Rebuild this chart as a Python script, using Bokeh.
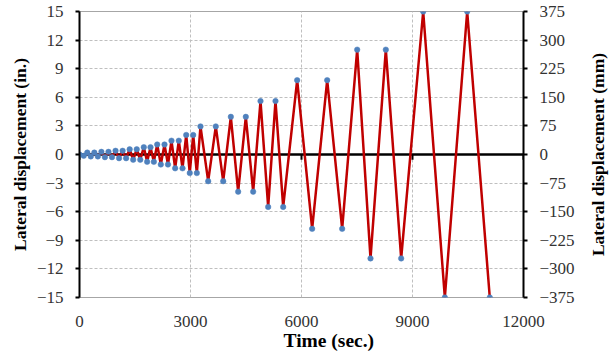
import math
from bokeh.plotting import figure
from bokeh.layouts import row
from bokeh.models import Range1d, LinearAxis, FixedTicker, Span, Title, ColumnDataSource
from bokeh.embed import file_html
from bokeh.resources import INLINE

# ---- data ----
time_s = [0, 115, 210, 305, 401, 496, 592, 687, 783, 878, 974, 1069, 1165, 1260,
          1356, 1451, 1547, 1642, 1738, 1828, 1919, 2009, 2100, 2198, 2297, 2391,
          2486, 2585, 2684, 2784, 2884, 2980, 3073, 3171, 3270, 3478, 3684, 3884,
          4090, 4288, 4495, 4694, 4892, 5099, 5297, 5505, 5883, 6288, 6694, 7099,
          7505, 7865, 8279, 8694, 9289, 9874, 10478, 11089]
disp_in = [0, -0.14, 0.2, -0.2, 0.2, -0.2, 0.28, -0.28, 0.28, -0.28, 0.39, -0.39,
           0.39, -0.39, 0.55, -0.55, 0.55, -0.55, 0.77, -0.77, 0.77, -0.77, 1.05,
           -1.05, 1.05, -1.05, 1.45, -1.45, 1.45, -1.45, 2.05, -1.95, 2.05, -1.95,
           2.95, -2.8, 2.95, -2.8, 3.95, -3.9, 3.95, -3.9, 5.6, -5.5, 5.6, -5.5,
           7.8, -7.8, 7.8, -7.8, 11.0, -10.9, 11.0, -10.9, 15.0, -15.0, 15.0, -15.0]

x_ticks = [0, 3000, 6000, 9000, 12000]
y_ticks_in = [-15, -12, -9, -6, -3, 0, 3, 6, 9, 12, 15]
y_ticks_mm = [-375, -300, -225, -150, -75, 0, 75, 150, 225, 300, 375]

x_title = "Time (sec.)"
y_title_left = "Lateral displacement (in.)"
y_title_right = "Lateral displacement (mm)"

SERIF = "Liberation Serif"
TICK_SIZE = "17px"
TICK_COLOR = "#333333"

W, H = 585, 352

p = figure(width=W, height=H, output_backend="svg", toolbar_location=None,
           x_range=Range1d(0, 12000), y_range=Range1d(-15, 15),
           min_border_left=79, min_border_right=62, min_border_top=11,
           min_border_bottom=55)
p.extra_y_ranges = {"mm": Range1d(y_ticks_mm[0], y_ticks_mm[-1])}
p.background_fill_color = "white"
p.border_fill_color = "white"
p.outline_line_color = "#a6a6a6"
p.outline_line_width = 1

# grids
p.xgrid.ticker = FixedTicker(ticks=x_ticks)
p.ygrid.ticker = FixedTicker(ticks=y_ticks_in)
for g in (p.xgrid, p.ygrid):
    g.grid_line_color = "#bfbfbf"
    g.grid_line_dash = "3 2"
    g.grid_line_width = 1

# bottom axis: labels only
xa = p.xaxis[0]
xa.ticker = FixedTicker(ticks=x_ticks)
xa.axis_line_color = None
xa.major_tick_line_color = None
xa.minor_tick_line_color = None
xa.major_label_standoff = 12
xa.major_label_text_font = SERIF
xa.major_label_text_font_size = TICK_SIZE
xa.major_label_text_color = TICK_COLOR

# left axis
ya = p.yaxis[0]
ya.ticker = FixedTicker(ticks=y_ticks_in)
ya.axis_line_color = "black"
ya.axis_line_width = 2
ya.major_tick_line_color = "black"
ya.major_tick_line_width = 2
ya.major_tick_out = 4
ya.major_tick_in = 0
ya.minor_tick_line_color = None
ya.major_label_standoff = 12
ya.major_label_text_font = SERIF
ya.major_label_text_font_size = TICK_SIZE
ya.major_label_text_color = TICK_COLOR
ya.axis_label = y_title_left
ya.axis_label_text_font = SERIF
ya.axis_label_text_font_style = "bold"
ya.axis_label_text_font_size = "17.5px"
ya.axis_label_text_color = "black"
ya.axis_label_standoff = 4

# right axis (ticks + labels)
ra = LinearAxis(y_range_name="mm", ticker=FixedTicker(ticks=y_ticks_mm))
ra.axis_line_color = "black"
ra.axis_line_width = 2
ra.major_tick_line_color = "black"
ra.major_tick_line_width = 2
ra.major_tick_out = 4
ra.major_tick_in = 0
ra.minor_tick_line_color = None
ra.major_label_standoff = 12
ra.major_label_text_font = SERIF
ra.major_label_text_font_size = TICK_SIZE
ra.major_label_text_color = TICK_COLOR
p.add_layout(ra, "right")

# x title (offset to the right as in the reference)
t = Title(text=x_title, align="left", offset=204, vertical_align="top",
          text_font=SERIF, text_font_style="bold", text_font_size="19.5px",
          text_color="black", standoff=0)
p.add_layout(t, "below")

# zero line with tick marks
zero = Span(location=0, dimension="width", line_color="black", line_width=2.5,
            level="underlay")
p.add_layout(zero)
p.segment(x0=x_ticks, y0=[0] * len(x_ticks), x1=x_ticks,
          y1=[-0.55] * len(x_ticks), line_color="black", line_width=2)

src = ColumnDataSource(data=dict(t=time_s, d=disp_in))
p.line("t", "d", source=src, line_color="#c00000", line_width=2.5)
p.scatter("t", "d", source=src, size=5.5, fill_color="#4f81bd",
          line_color="#4f81bd", line_width=0.5)

# narrow side panel carrying the right-hand title, reading bottom-to-top
side = figure(width=27, height=H, output_backend="svg", toolbar_location=None,
              x_axis_location=None, y_axis_location=None,
              min_border_left=0, min_border_right=0, min_border_top=2,
              min_border_bottom=55)
side.outline_line_color = None
side.grid.visible = False
side.background_fill_color = "white"
side.border_fill_color = "white"
rt = Title(text=y_title_right, align="center", text_font=SERIF,
           text_font_style="bold", text_font_size="17.5px",
           text_color="black", standoff=0)
side.add_layout(rt, "left")

layout = row(p, side)
open("out.html", "w").write(file_html(layout, INLINE))
